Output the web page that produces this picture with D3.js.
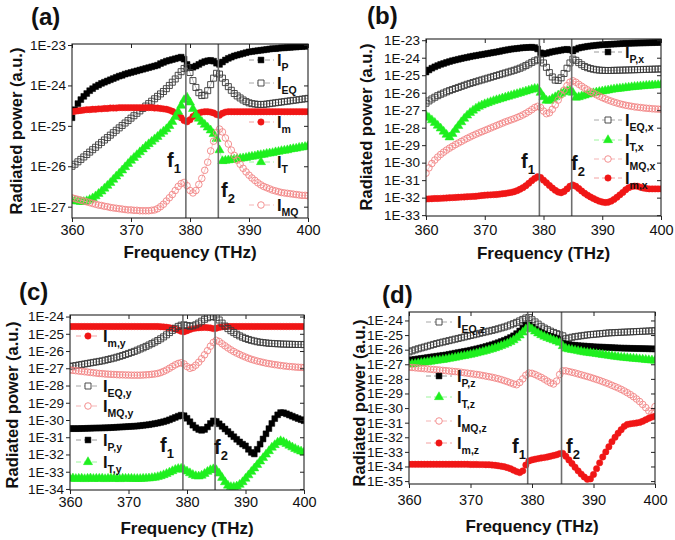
<!DOCTYPE html>
<html><head><meta charset="utf-8">
<script src="https://cdn.jsdelivr.net/npm/d3@7/dist/d3.min.js"></script>
<style>body{margin:0;background:#fff}svg{display:block}text{font-family:Arial,"Liberation Sans",sans-serif}</style>
</head><body><svg id="chart" width="675" height="540"></svg>
<script>
// Frequency axis (THz), one point every 0.5 THz
const freq = [360,360.5,361,361.5,362,362.5,363,363.5,364,364.5,
365,365.5,366,366.5,367,367.5,368,368.5,369,369.5,
370,370.5,371,371.5,372,372.5,373,373.5,374,374.5,
375,375.5,376,376.5,377,377.5,378,378.5,379,379.5,
380,380.5,381,381.5,382,382.5,383,383.5,384,384.5,
385,385.5,386,386.5,387,387.5,388,388.5,389,389.5,
390,390.5,391,391.5,392,392.5,393,393.5,394,394.5,
395,395.5,396,396.5,397,397.5,398,398.5,399,399.5,400];
const xTicks = [360,370,380,390,400];
const resonances = [379.3, 384.8];
// Radiated power, stored as log10 values (1E-23 -> -23)
// Panel (a)
const aP = [-24.8,-24.6,-24.45,-24.35,-24.27,-24.2,-24.13,-24.08,-24.03,-23.99,
-23.95,-23.92,-23.89,-23.86,-23.83,-23.8,-23.77,-23.75,-23.72,-23.7,
-23.68,-23.66,-23.64,-23.62,-23.6,-23.58,-23.56,-23.54,-23.52,-23.5,
-23.46,-23.43,-23.4,-23.38,-23.36,-23.34,-23.32,-23.3,-23.35,-23.48,
-23.56,-23.55,-23.52,-23.48,-23.44,-23.41,-23.39,-23.38,-23.4,-23.45,
-23.48,-23.42,-23.37,-23.33,-23.3,-23.27,-23.25,-23.23,-23.21,-23.19,
-23.17,-23.16,-23.15,-23.14,-23.13,-23.12,-23.11,-23.1,-23.09,-23.09,
-23.08,-23.07,-23.07,-23.06,-23.06,-23.05,-23.05,-23.04,-23.04,-23.03,-23.03];
const aEQ = [-26.0,-25.95,-25.89,-25.83,-25.77,-25.71,-25.65,-25.59,-25.53,-25.47,
-25.41,-25.35,-25.29,-25.23,-25.17,-25.11,-25.05,-24.99,-24.93,-24.87,
-24.81,-24.75,-24.69,-24.63,-24.57,-24.51,-24.45,-24.39,-24.33,-24.27,
-24.21,-24.15,-24.08,-24.0,-23.92,-23.84,-23.75,-23.66,-23.58,-23.56,
-23.68,-23.88,-24.05,-24.18,-24.25,-24.24,-24.13,-23.98,-23.82,-23.7,
-23.72,-23.82,-23.93,-24.03,-24.12,-24.2,-24.26,-24.31,-24.36,-24.4,
-24.43,-24.45,-24.46,-24.47,-24.47,-24.47,-24.46,-24.45,-24.44,-24.43,
-24.42,-24.41,-24.4,-24.39,-24.38,-24.37,-24.36,-24.35,-24.34,-24.33,-24.32];
const am = [-24.65,-24.64,-24.63,-24.62,-24.61,-24.6,-24.6,-24.59,-24.59,-24.58,
-24.58,-24.57,-24.57,-24.56,-24.56,-24.56,-24.55,-24.55,-24.55,-24.55,
-24.55,-24.55,-24.55,-24.55,-24.55,-24.55,-24.55,-24.55,-24.56,-24.56,
-24.57,-24.58,-24.59,-24.61,-24.64,-24.68,-24.73,-24.8,-24.87,-24.9,
-24.85,-24.77,-24.71,-24.68,-24.66,-24.65,-24.65,-24.66,-24.68,-24.72,
-24.74,-24.69,-24.66,-24.65,-24.65,-24.65,-24.65,-24.65,-24.65,-24.65,
-24.65,-24.65,-24.65,-24.65,-24.65,-24.65,-24.65,-24.65,-24.65,-24.65,
-24.65,-24.65,-24.65,-24.65,-24.65,-24.65,-24.65,-24.65,-24.65,-24.65,-24.65];
const aT = [-26.85,-26.86,-26.87,-26.88,-26.88,-26.86,-26.83,-26.79,-26.74,-26.68,
-26.62,-26.55,-26.48,-26.41,-26.33,-26.25,-26.18,-26.1,-26.02,-25.94,
-25.86,-25.79,-25.72,-25.65,-25.58,-25.51,-25.45,-25.39,-25.33,-25.27,
-25.2,-25.14,-25.08,-25.0,-24.9,-24.78,-24.65,-24.5,-24.36,-24.3,
-24.42,-24.58,-24.73,-24.82,-24.9,-24.97,-25.04,-25.11,-25.2,-25.32,
-25.6,-25.87,-25.86,-25.85,-25.84,-25.83,-25.82,-25.81,-25.8,-25.79,
-25.77,-25.76,-25.75,-25.73,-25.72,-25.71,-25.69,-25.68,-25.67,-25.65,
-25.64,-25.62,-25.61,-25.6,-25.58,-25.57,-25.56,-25.54,-25.53,-25.52,-25.5];
const aMQ = [-26.78,-26.8,-26.82,-26.84,-26.86,-26.88,-26.9,-26.92,-26.94,-26.96,
-26.97,-26.99,-27.0,-27.02,-27.03,-27.04,-27.05,-27.06,-27.07,-27.08,
-27.08,-27.09,-27.09,-27.1,-27.1,-27.1,-27.1,-27.09,-27.08,-27.05,
-27.0,-26.94,-26.86,-26.78,-26.7,-26.6,-26.5,-26.43,-26.4,-26.48,
-26.6,-26.66,-26.6,-26.45,-26.3,-26.1,-25.9,-25.62,-25.38,-25.17,
-25.08,-25.15,-25.3,-25.45,-25.6,-25.73,-25.85,-25.95,-26.05,-26.14,
-26.22,-26.29,-26.35,-26.41,-26.46,-26.5,-26.53,-26.56,-26.59,-26.61,
-26.63,-26.65,-26.66,-26.67,-26.68,-26.69,-26.7,-26.71,-26.72,-26.72,-26.73];
// Panel (b)
const bPx = [-24.82,-24.7,-24.6,-24.52,-24.45,-24.38,-24.33,-24.27,-24.22,-24.17,
-24.13,-24.09,-24.05,-24.01,-23.98,-23.94,-23.91,-23.88,-23.85,-23.82,
-23.79,-23.76,-23.73,-23.7,-23.67,-23.64,-23.6,-23.57,-23.54,-23.51,
-23.49,-23.47,-23.45,-23.43,-23.42,-23.41,-23.4,-23.42,-23.5,-23.72,
-23.78,-23.75,-23.7,-23.66,-23.63,-23.6,-23.57,-23.54,-23.52,-23.55,
-23.62,-23.52,-23.45,-23.41,-23.38,-23.35,-23.33,-23.31,-23.29,-23.27,
-23.26,-23.25,-23.24,-23.23,-23.22,-23.21,-23.2,-23.19,-23.18,-23.18,
-23.17,-23.17,-23.16,-23.16,-23.15,-23.15,-23.14,-23.14,-23.13,-23.13,-23.12];
const bEQx = [-26.6,-26.47,-26.36,-26.26,-26.17,-26.09,-26.02,-25.95,-25.88,-25.82,
-25.76,-25.7,-25.64,-25.58,-25.52,-25.47,-25.42,-25.37,-25.32,-25.27,
-25.22,-25.17,-25.12,-25.07,-25.02,-24.97,-24.92,-24.87,-24.82,-24.77,
-24.72,-24.66,-24.6,-24.53,-24.45,-24.36,-24.27,-24.18,-24.12,-24.13,
-24.3,-24.55,-24.85,-25.1,-25.28,-25.3,-25.15,-24.9,-24.6,-24.3,
-24.08,-24.15,-24.28,-24.4,-24.5,-24.57,-24.62,-24.66,-24.69,-24.71,
-24.72,-24.73,-24.73,-24.73,-24.72,-24.72,-24.71,-24.71,-24.7,-24.7,
-24.69,-24.69,-24.68,-24.68,-24.67,-24.67,-24.66,-24.66,-24.65,-24.65,-24.64];
const bTx = [-27.3,-27.43,-27.57,-27.72,-27.88,-28.04,-28.22,-28.4,-28.55,-28.35,
-28.12,-27.9,-27.68,-27.48,-27.3,-27.15,-27.02,-26.9,-26.8,-26.72,
-26.65,-26.59,-26.53,-26.47,-26.42,-26.37,-26.32,-26.27,-26.22,-26.17,
-26.12,-26.07,-26.02,-25.97,-25.92,-25.87,-25.82,-25.77,-25.78,-26.0,
-26.25,-26.45,-26.45,-26.35,-26.25,-26.15,-26.05,-25.97,-25.9,-25.85,
-26.0,-26.28,-26.25,-26.2,-26.15,-26.1,-26.06,-26.02,-25.98,-25.95,
-25.92,-25.89,-25.86,-25.83,-25.8,-25.78,-25.76,-25.74,-25.72,-25.7,
-25.68,-25.66,-25.65,-25.63,-25.62,-25.6,-25.59,-25.58,-25.57,-25.56,-25.55];
const bMQx = [-30.6,-30.3,-30.05,-29.85,-29.68,-29.53,-29.4,-29.28,-29.17,-29.07,
-28.97,-28.88,-28.79,-28.7,-28.61,-28.53,-28.45,-28.37,-28.3,-28.23,
-28.16,-28.09,-28.02,-27.95,-27.88,-27.81,-27.74,-27.67,-27.61,-27.55,
-27.49,-27.42,-27.35,-27.27,-27.18,-27.08,-26.97,-26.85,-26.78,-26.85,
-27.05,-27.2,-27.15,-26.95,-26.7,-26.42,-26.12,-25.85,-25.6,-25.4,
-25.32,-25.4,-25.52,-25.63,-25.74,-25.84,-25.94,-26.03,-26.12,-26.2,
-26.28,-26.35,-26.42,-26.48,-26.54,-26.59,-26.64,-26.68,-26.72,-26.75,
-26.78,-26.81,-26.83,-26.85,-26.87,-26.89,-26.9,-26.92,-26.93,-26.94,-26.95];
const bmx = [-32.08,-32.07,-32.06,-32.05,-32.05,-32.04,-32.03,-32.02,-32.01,-32.0,
-31.99,-31.98,-31.97,-31.96,-31.95,-31.94,-31.93,-31.92,-31.9,-31.88,
-31.86,-31.85,-31.84,-31.83,-31.82,-31.8,-31.78,-31.76,-31.73,-31.7,
-31.66,-31.6,-31.52,-31.43,-31.32,-31.18,-31.03,-30.9,-30.8,-30.85,
-31.0,-31.15,-31.3,-31.45,-31.58,-31.68,-31.72,-31.65,-31.5,-31.35,
-31.28,-31.35,-31.48,-31.62,-31.75,-31.86,-31.96,-32.05,-32.13,-32.2,
-32.25,-32.28,-32.26,-32.2,-32.1,-31.98,-31.84,-31.7,-31.55,-31.43,
-31.37,-31.34,-31.35,-31.4,-31.45,-31.48,-31.5,-31.5,-31.5,-31.5,-31.5];
// Panel (c)
const cmy = [-24.58,-24.58,-24.58,-24.58,-24.58,-24.58,-24.58,-24.58,-24.58,-24.58,
-24.58,-24.58,-24.58,-24.58,-24.58,-24.58,-24.58,-24.58,-24.58,-24.58,
-24.58,-24.58,-24.58,-24.58,-24.58,-24.58,-24.58,-24.58,-24.58,-24.58,
-24.58,-24.59,-24.6,-24.62,-24.65,-24.68,-24.72,-24.78,-24.85,-24.88,
-24.82,-24.75,-24.7,-24.67,-24.65,-24.64,-24.63,-24.64,-24.66,-24.7,
-24.68,-24.63,-24.6,-24.59,-24.58,-24.58,-24.58,-24.58,-24.58,-24.58,
-24.58,-24.58,-24.58,-24.58,-24.58,-24.58,-24.58,-24.58,-24.58,-24.58,
-24.58,-24.58,-24.58,-24.58,-24.58,-24.58,-24.58,-24.58,-24.58,-24.58,-24.58];
const cEQy = [-26.9,-26.87,-26.84,-26.81,-26.78,-26.75,-26.72,-26.69,-26.66,-26.63,
-26.6,-26.57,-26.53,-26.49,-26.45,-26.41,-26.36,-26.31,-26.26,-26.2,
-26.14,-26.08,-26.02,-25.95,-25.88,-25.81,-25.73,-25.65,-25.57,-25.48,
-25.39,-25.29,-25.18,-25.06,-24.93,-24.8,-24.68,-24.57,-24.5,-24.48,
-24.52,-24.56,-24.54,-24.48,-24.38,-24.27,-24.16,-24.07,-24.02,-24.0,
-24.05,-24.2,-24.38,-24.55,-24.7,-24.82,-24.93,-25.03,-25.12,-25.2,
-25.27,-25.33,-25.38,-25.42,-25.46,-25.49,-25.51,-25.53,-25.55,-25.56,
-25.57,-25.58,-25.59,-25.6,-25.6,-25.61,-25.61,-25.62,-25.62,-25.62,-25.63];
const cMQy = [-27.1,-27.12,-27.14,-27.16,-27.18,-27.2,-27.22,-27.24,-27.26,-27.28,
-27.3,-27.31,-27.33,-27.34,-27.35,-27.36,-27.37,-27.38,-27.38,-27.39,
-27.39,-27.4,-27.4,-27.4,-27.4,-27.39,-27.38,-27.37,-27.35,-27.33,
-27.3,-27.25,-27.18,-27.1,-27.0,-26.9,-26.8,-26.72,-26.68,-26.75,
-26.9,-27.0,-26.95,-26.82,-26.65,-26.45,-26.22,-25.98,-25.72,-25.5,
-25.38,-25.45,-25.58,-25.7,-25.82,-25.93,-26.03,-26.12,-26.2,-26.28,
-26.35,-26.42,-26.48,-26.53,-26.58,-26.62,-26.66,-26.7,-26.73,-26.76,
-26.79,-26.81,-26.84,-26.86,-26.88,-26.9,-26.91,-26.93,-26.94,-26.95,-26.96];
const cPy = [-30.5,-30.5,-30.5,-30.5,-30.49,-30.49,-30.48,-30.48,-30.47,-30.47,
-30.46,-30.46,-30.45,-30.45,-30.44,-30.43,-30.42,-30.41,-30.4,-30.39,
-30.38,-30.37,-30.36,-30.35,-30.33,-30.31,-30.29,-30.27,-30.24,-30.21,
-30.18,-30.14,-30.1,-30.05,-29.99,-29.92,-29.85,-29.78,-29.72,-29.75,
-29.9,-30.1,-30.3,-30.45,-30.55,-30.6,-30.55,-30.4,-30.2,-30.05,
-30.08,-30.22,-30.37,-30.52,-30.67,-30.82,-30.97,-31.12,-31.27,-31.4,
-31.5,-31.7,-31.88,-31.97,-31.7,-31.4,-31.1,-30.8,-30.5,-30.2,
-29.92,-29.7,-29.57,-29.58,-29.64,-29.71,-29.78,-29.85,-29.92,-29.98,-30.04];
const cTy = [-33.4,-33.38,-33.41,-33.4,-33.39,-33.42,-33.4,-33.38,-33.41,-33.4,
-33.4,-33.39,-33.42,-33.4,-33.38,-33.41,-33.4,-33.42,-33.39,-33.4,
-33.4,-33.4,-33.41,-33.41,-33.41,-33.4,-33.39,-33.38,-33.36,-33.34,
-33.3,-33.25,-33.19,-33.12,-33.04,-32.96,-32.88,-32.83,-32.82,-32.88,
-32.98,-33.08,-33.18,-33.25,-33.27,-33.22,-33.12,-33.0,-32.9,-32.85,
-32.9,-33.1,-33.35,-33.6,-33.8,-33.88,-33.88,-33.85,-33.75,-33.6,
-33.4,-33.2,-33.0,-32.8,-32.6,-32.4,-32.2,-32.0,-31.8,-31.6,
-31.45,-31.3,-31.22,-31.28,-31.38,-31.48,-31.58,-31.67,-31.75,-31.82,-31.88];
// Panel (d)
const dEQz = [-26.15,-26.08,-26.01,-25.94,-25.88,-25.82,-25.76,-25.7,-25.64,-25.58,
-25.53,-25.48,-25.43,-25.38,-25.33,-25.28,-25.23,-25.18,-25.13,-25.08,
-25.03,-24.98,-24.93,-24.88,-24.83,-24.78,-24.73,-24.68,-24.63,-24.57,
-24.51,-24.45,-24.38,-24.3,-24.22,-24.13,-24.03,-23.93,-23.83,-23.8,
-23.95,-24.1,-24.25,-24.4,-24.52,-24.63,-24.73,-24.82,-24.9,-24.97,
-25.05,-25.25,-25.2,-25.15,-25.11,-25.08,-25.05,-25.02,-24.99,-24.97,
-24.95,-24.93,-24.91,-24.89,-24.87,-24.85,-24.84,-24.83,-24.82,-24.81,
-24.8,-24.79,-24.78,-24.77,-24.76,-24.75,-24.74,-24.73,-24.72,-24.71,-24.7];
const dPz = [-26.72,-26.69,-26.66,-26.63,-26.6,-26.57,-26.54,-26.51,-26.48,-26.45,
-26.42,-26.39,-26.36,-26.32,-26.28,-26.24,-26.2,-26.16,-26.12,-26.08,
-26.04,-25.99,-25.94,-25.89,-25.84,-25.78,-25.72,-25.66,-25.59,-25.52,
-25.44,-25.36,-25.27,-25.17,-25.05,-24.9,-24.72,-24.52,-24.32,-24.3,
-24.45,-24.6,-24.73,-24.84,-24.93,-25.01,-25.08,-25.15,-25.22,-25.3,
-25.55,-25.62,-25.65,-25.68,-25.7,-25.72,-25.74,-25.75,-25.77,-25.78,
-25.8,-25.81,-25.82,-25.83,-25.84,-25.85,-25.86,-25.87,-25.88,-25.89,
-25.9,-25.9,-25.91,-25.91,-25.92,-25.92,-25.93,-25.93,-25.94,-25.94,-25.95];
const dTz = [-27.02,-26.99,-26.96,-26.93,-26.9,-26.87,-26.84,-26.81,-26.78,-26.75,
-26.72,-26.69,-26.66,-26.62,-26.58,-26.54,-26.5,-26.46,-26.42,-26.38,
-26.34,-26.29,-26.24,-26.19,-26.14,-26.08,-26.02,-25.96,-25.89,-25.82,
-25.74,-25.66,-25.57,-25.47,-25.35,-25.2,-25.02,-24.82,-24.6,-24.45,
-24.6,-24.75,-24.88,-25.0,-25.1,-25.19,-25.27,-25.35,-25.43,-25.52,
-25.75,-25.92,-25.97,-26.01,-26.05,-26.09,-26.13,-26.17,-26.2,-26.23,
-26.26,-26.29,-26.32,-26.35,-26.38,-26.41,-26.44,-26.47,-26.5,-26.53,
-26.55,-26.57,-26.59,-26.61,-26.63,-26.65,-26.67,-26.69,-26.71,-26.73,-26.75];
const dMQz = [-27.2,-27.22,-27.24,-27.26,-27.28,-27.3,-27.32,-27.34,-27.36,-27.38,
-27.4,-27.42,-27.44,-27.46,-27.48,-27.5,-27.52,-27.55,-27.58,-27.61,
-27.64,-27.67,-27.7,-27.73,-27.77,-27.81,-27.85,-27.89,-27.94,-27.99,
-28.05,-28.12,-28.19,-28.27,-28.35,-28.4,-28.25,-28.0,-27.75,-27.6,
-27.62,-27.7,-27.8,-27.9,-28.02,-28.15,-28.27,-28.35,-28.15,-27.7,
-27.45,-27.45,-27.5,-27.55,-27.6,-27.66,-27.72,-27.78,-27.84,-27.9,
-27.97,-28.04,-28.11,-28.19,-28.27,-28.35,-28.44,-28.53,-28.62,-28.72,
-28.83,-28.95,-29.08,-29.22,-29.38,-29.55,-29.75,-29.97,-30.2,-30.35,-29.9];
const dmz = [-33.85,-33.85,-33.85,-33.85,-33.85,-33.85,-33.85,-33.85,-33.85,-33.85,
-33.85,-33.85,-33.85,-33.85,-33.85,-33.85,-33.85,-33.85,-33.85,-33.85,
-33.86,-33.86,-33.86,-33.87,-33.87,-33.88,-33.88,-33.9,-33.92,-33.95,
-33.98,-34.02,-34.08,-34.15,-34.25,-34.35,-34.42,-34.3,-33.9,-33.62,
-33.55,-33.5,-33.46,-33.42,-33.39,-33.35,-33.3,-33.25,-33.2,-33.12,
-33.1,-33.3,-33.55,-33.8,-34.05,-34.3,-34.52,-34.72,-34.88,-34.85,
-34.55,-34.15,-33.75,-33.35,-33.0,-32.65,-32.3,-32.0,-31.72,-31.48,
-31.25,-31.12,-31.08,-31.05,-31.02,-30.98,-30.9,-30.8,-30.7,-30.62,-30.55];
// y tick exponents per panel
const aTicks = [-23,-24,-25,-26,-27];
const bTicks = [-23,-24,-25,-26,-27,-28,-29,-30,-31,-32,-33];
const cTicks = [-24,-25,-26,-27,-28,-29,-30,-31,-32,-33,-34];
const dTicks = [-24,-25,-26,-27,-28,-29,-30,-31,-32,-33,-34,-35];

// ---------- styles ----------
const STY = {
  P:  {sym:d3.symbolSquare, size:34, fill:"#000", stroke:"#000", sw:0.5, line:"#9a9a9a"},
  EQ: {sym:d3.symbolSquare, size:36, fill:"none", stroke:"#3a3a3a", sw:0.9, line:"#a8a8a8"},
  m:  {sym:d3.symbolCircle, size:32, fill:"#f01616", stroke:"#f01616", sw:0.5, line:"#f3a0a0"},
  T:  {sym:d3.symbolTriangle, size:36, fill:"#1fef1f", stroke:"#1fef1f", sw:0.5, line:"#9cf59c"},
  MQ: {sym:d3.symbolCircle, size:34, fill:"none", stroke:"#f28585", sw:0.9, line:"#f5b5b5"}
};

const panels = [
 {label:"(a)", labelPos:[31,25], box:{l:72,r:308,t:44,b:218}, dom:[-27.28,-22.975], ticks:aTicks,
  ytitle:[16,131], xlabY:235, xtitleY:258,
  series:[["P",aP,"P"],["EQ",aEQ,"EQ"],["m",am,"m"],["T",aT,"T"],["MQ",aMQ,"MQ"]],
  legend:{x0:249,x1:274,mx:261,tx:277,ys:[60,83,122,162,205]},
  fl:[[167,167],[221,197]]},
 {label:"(b)", labelPos:[367,24], box:{l:426,r:661,t:39,b:216}, dom:[-33.05,-22.93], ticks:bTicks,
  ytitle:[366,127], xlabY:235, xtitleY:259,
  series:[["P",bPx,"P,x"],["EQ",bEQx,"EQ,x"],["T",bTx,"T,x"],["MQ",bMQx,"MQ,x"],["m",bmx,"m,x"]],
  legend:{x0:594,x1:622,mx:608,tx:625,ys:[52,120,140,159,178]},
  fl:[[521,168],[571,170]]},
 {label:"(c)", labelPos:[19,300], box:{l:70,r:304,t:315,b:490}, dom:[-34.06,-23.91], ticks:cTicks,
  ytitle:[12,405], xlabY:507, xtitleY:534,
  series:[["m",cmy,"m,y"],["EQ",cEQy,"EQ,y"],["MQ",cMQy,"MQ,y"],["P",cPy,"P,y"],["T",cTy,"T,y"]],
  legend:{x0:76,x1:100,mx:88,tx:103,ys:[336,386,406,440,462]},
  fl:[[160,452],[214,454]]},
 {label:"(d)", labelPos:[382,303], box:{l:409,r:655,t:312,b:484}, dom:[-35.2,-23.42], ticks:dTicks,
  ytitle:[359,403], xlabY:505, xtitleY:532,
  series:[["EQ",dEQz,"EQ,z"],["P",dPz,"P,z"],["T",dTz,"T,z"],["MQ",dMQz,"MQ,z"],["m",dmz,"m,z"]],
  legend:{x0:426,x1:452,mx:439,tx:457,ys:[322,376,397,421,443]},
  fl:[[512,453],[566,453]]}
];

const svg = d3.select("#chart");

panels.forEach((p,pi) => {
  const g = svg.append("g");
  const x = d3.scaleLinear().domain([360,400]).range([p.box.l,p.box.r]);
  const y = d3.scaleLog().domain([Math.pow(10,p.dom[0]), Math.pow(10,p.dom[1])]).range([p.box.b,p.box.t]);
  const clipId = "clip"+pi;
  g.append("clipPath").attr("id",clipId).append("rect")
    .attr("x",p.box.l).attr("y",p.box.t).attr("width",p.box.r-p.box.l).attr("height",p.box.b-p.box.t);

  // series
  const plot = g.append("g").attr("clip-path",`url(#${clipId})`);
  p.series.forEach(([k,vals]) => {
    const s = STY[k];
    const pts = freq.map((f,i)=>[f, Math.pow(10, vals[i])]);
    plot.append("path").attr("d", d3.line().x(d=>x(d[0])).y(d=>y(d[1]))(pts))
      .attr("fill","none").attr("stroke",s.line).attr("stroke-width",0.8);
    plot.append("g").selectAll("path").data(pts).join("path")
      .attr("transform",d=>`translate(${x(d[0])},${y(d[1])})`)
      .attr("d", d3.symbol().type(s.sym).size(s.size)())
      .attr("fill",s.fill).attr("stroke",s.stroke).attr("stroke-width",s.sw);
  });

  // resonance lines
  g.selectAll("line.res").data(resonances).join("line")
    .attr("x1",d=>x(d)).attr("x2",d=>x(d)).attr("y1",p.box.t).attr("y2",p.box.b)
    .attr("stroke","#6e6e6e").attr("stroke-width",1.6);

  // frame
  g.append("rect").attr("x",p.box.l).attr("y",p.box.t).attr("width",p.box.r-p.box.l).attr("height",p.box.b-p.box.t)
    .attr("fill","none").attr("stroke","#222").attr("stroke-width",1.1);

  // y axis
  const yAxis = d3.axisLeft(y).tickValues(p.ticks.map(e=>Math.pow(10,e)))
    .tickFormat((d,i)=>"1E"+p.ticks[i]).tickSize(4).tickPadding(2);
  const ya = g.append("g").attr("transform",`translate(${p.box.l},0)`).call(yAxis);
  ya.select(".domain").remove();
  ya.selectAll("text").attr("font-size",13.5).attr("fill","#111").attr("font-family","Arial,'Liberation Sans',sans-serif");
  ya.selectAll("line").attr("stroke","#222");
  const yr = d3.axisRight(y).tickValues(p.ticks.map(e=>Math.pow(10,e))).tickFormat("").tickSize(-4);
  const yra = g.append("g").attr("transform",`translate(${p.box.r},0)`).call(yr);
  yra.select(".domain").remove(); yra.selectAll("line").attr("stroke","#222");

  // x axis
  const xAxis = d3.axisBottom(x).tickValues(xTicks).tickFormat(d3.format("d")).tickSize(4).tickPadding(3);
  const xa = g.append("g").attr("transform",`translate(0,${p.box.b})`).call(xAxis);
  xa.select(".domain").remove();
  xa.selectAll("text").attr("font-size",14.5).attr("fill","#111").attr("dy",null)
    .attr("y",p.xlabY - p.box.b).attr("font-family","Arial,'Liberation Sans',sans-serif");
  xa.selectAll("line").attr("stroke","#222");
  const xt = d3.axisTop(x).tickValues(xTicks).tickFormat("").tickSize(-4);
  const xta = g.append("g").attr("transform",`translate(0,${p.box.t})`).call(xt);
  xta.select(".domain").remove(); xta.selectAll("line").attr("stroke","#222");

  // titles
  g.append("text").attr("x",(p.box.l+p.box.r)/2).attr("y",p.xtitleY).attr("text-anchor","middle")
    .attr("font-size",17).attr("font-weight","bold").attr("fill","#111").text("Frequency (THz)");
  g.append("text").attr("transform",`translate(${p.ytitle[0]},${p.ytitle[1]}) rotate(-90)`)
    .attr("text-anchor","middle").attr("dominant-baseline","central")
    .attr("font-size",16.5).attr("font-weight","bold").attr("fill","#111").text("Radiated power (a.u.)");
  g.append("text").attr("x",p.labelPos[0]).attr("y",p.labelPos[1])
    .attr("font-size",24).attr("font-weight","bold").attr("fill","#111").text(p.label);

  // f labels
  p.fl.forEach((pos,i)=>{
    const t = g.append("text").attr("x",pos[0]).attr("y",pos[1]).attr("font-weight","bold").attr("fill","#111");
    t.append("tspan").attr("font-size",20).text("f");
    t.append("tspan").attr("font-size",13).attr("dy",6).text(String(i+1));
  });

  // legend
  const L = p.legend;
  p.series.forEach(([k,vals,sub],i)=>{
    const s = STY[k]; const yy = L.ys[i];
    g.append("line").attr("x1",L.x0).attr("x2",L.x1).attr("y1",yy).attr("y2",yy)
      .attr("stroke",s.line).attr("stroke-width",1).attr("stroke-dasharray","5,3");
    g.append("path").attr("transform",`translate(${L.mx},${yy})`)
      .attr("d", d3.symbol().type(s.sym).size(s.size)())
      .attr("fill",s.fill==="none"?"#fff":s.fill).attr("stroke",s.stroke).attr("stroke-width",s.sw);
    const t = g.append("text").attr("x",L.tx).attr("y",yy+6).attr("font-weight","bold").attr("fill","#111");
    t.append("tspan").attr("font-size",16.5).text("I");
    t.append("tspan").attr("font-size",10.5).attr("dy",5).text(sub);
  });
});
</script></body></html>
